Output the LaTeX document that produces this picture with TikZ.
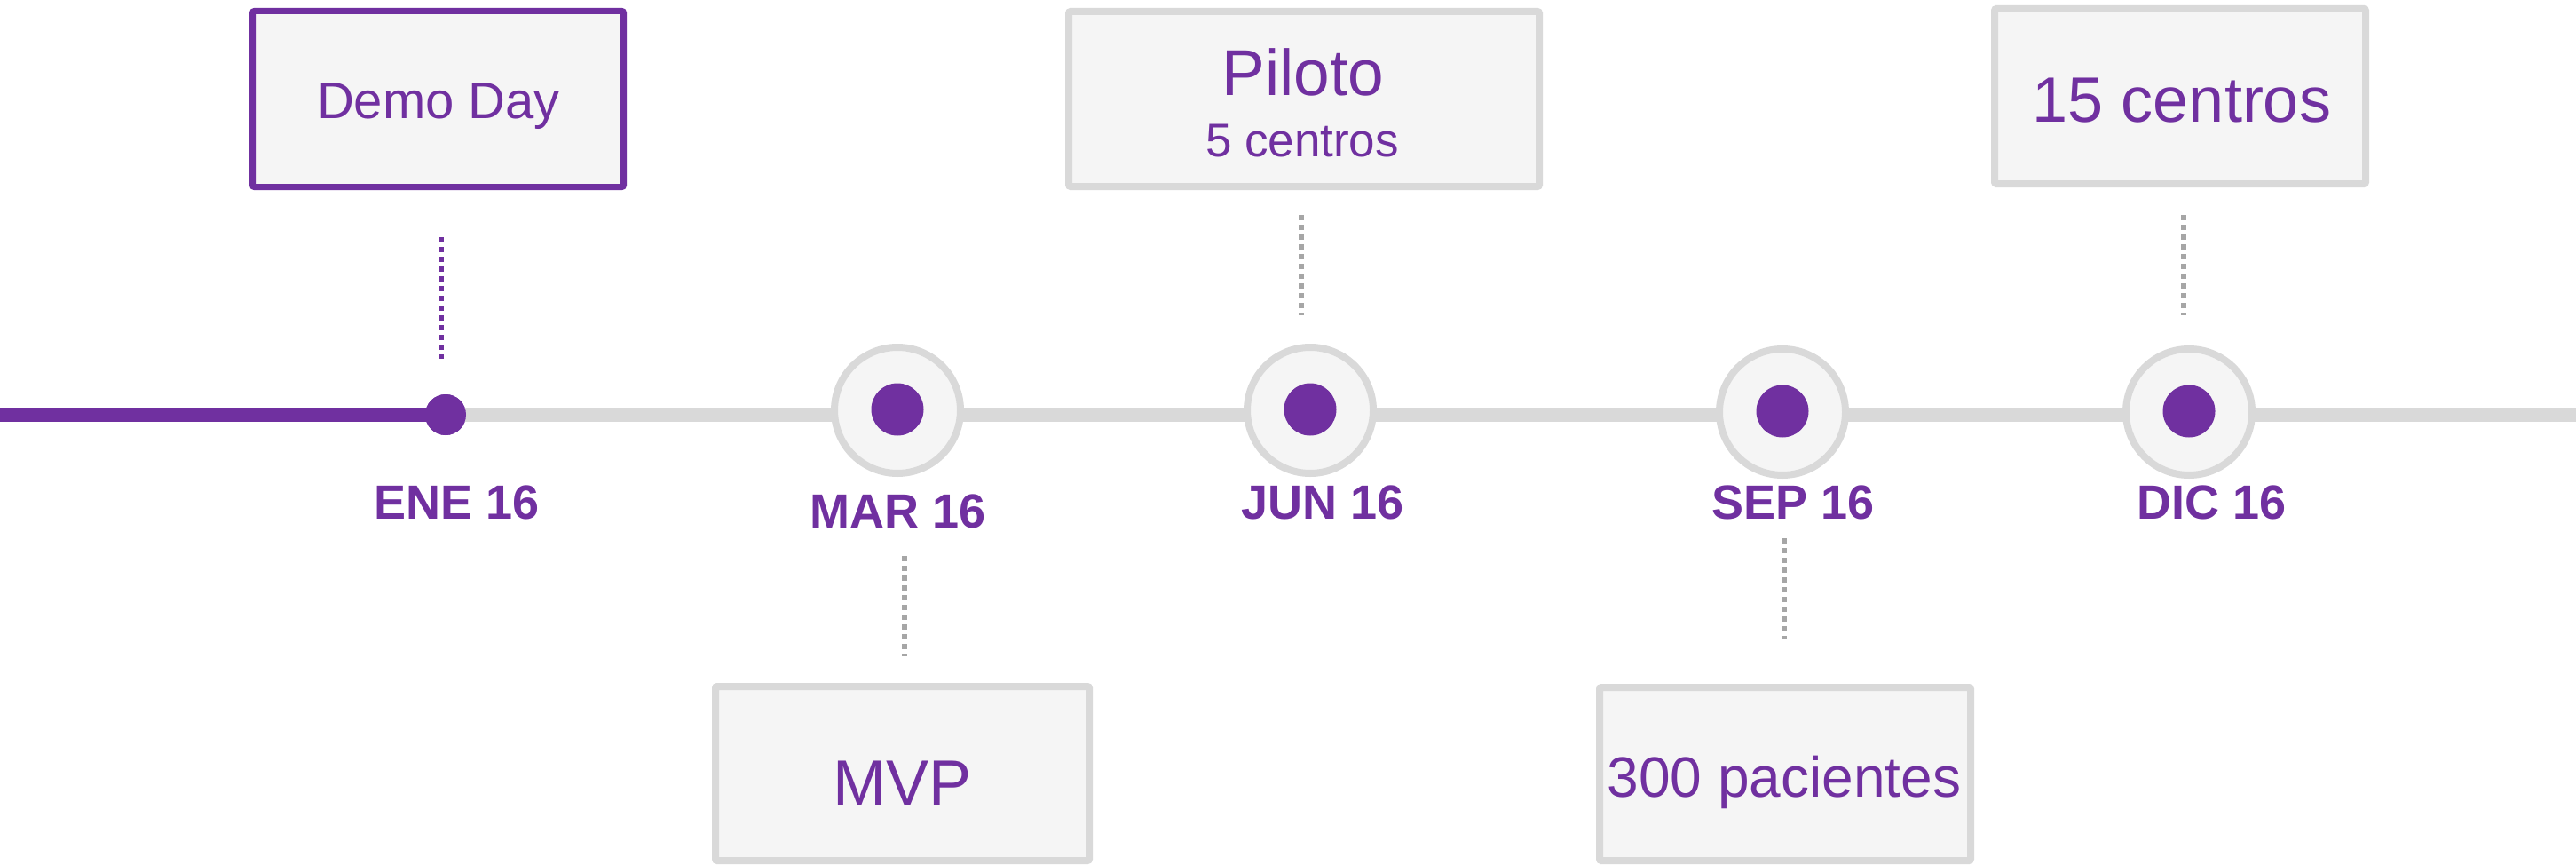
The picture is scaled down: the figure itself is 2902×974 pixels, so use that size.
\documentclass[tikz,border=0pt]{standalone}
\usepackage{fontspec}
\setmainfont{Liberation Sans}
\definecolor{vio}{HTML}{7030A0}
\definecolor{lgray}{HTML}{D9D9D9}
\definecolor{boxfill}{HTML}{F5F5F5}
\definecolor{dgray}{HTML}{A6A6A6}
\tikzset{
  gbox/.style={draw=lgray, line width=8pt, fill=boxfill, rectangle, inner sep=0pt, rounded corners=2pt},
  vbox/.style={draw=vio, line width=7pt, fill=boxfill, rectangle, inner sep=0pt, rounded corners=2pt},
  ring/.style={circle, draw=lgray, line width=8pt, fill=boxfill, minimum size=142pt, inner sep=0pt},
  core/.style={circle, fill=vio, minimum size=59pt, inner sep=0pt},
  txt/.style={text=vio, anchor=base, inner sep=0pt},
  datelbl/.style={text=vio, anchor=base, inner sep=0pt, font=\fontsize{54}{60}\selectfont\bfseries},
  vdots/.style={draw=vio, line width=5.5pt, dash pattern=on 5.5pt off 5.5pt},
  gdots/.style={draw=dgray, line width=5.5pt, dash pattern=on 5.5pt off 5.5pt},
}
\begin{document}
\begin{tikzpicture}[x=1pt, y=-1pt]
\useasboundingbox (0,0) rectangle (2902,974);
% timeline
\coordinate (start) at (0,467);
\coordinate (finish) at (2902,467);
\node[circle, fill=vio, minimum size=46pt, inner sep=0pt] (ene) at (502,467) {};
\draw[lgray, line width=16pt] (ene.center) -- (finish);
\draw[vio, line width=16pt] (start) -- (ene.center);
\node[circle, fill=vio, minimum size=46pt, inner sep=0pt] at (ene.center) {};
% rings
\node[ring] (mar) at (1011,462) {};
\node[core] (marc) at (1011,461) {};
\node[ring] (jun) at (1476,462) {};
\node[core] (junc) at (1476,461) {};
\node[ring] (sep) at (2008,464) {};
\node[core] (sepc) at (2008,463) {};
\node[ring] (dic) at (2466,464) {};
\node[core] (dicc) at (2466,463) {};
% date labels
\node[datelbl] (eneL) at (515,584) {ENE 16};
\node[datelbl] (marL) at (1012,594) {MAR 16};
\node[datelbl] (junL) at (1490,584) {JUN 16};
\node[datelbl] (sepL) at (2020,584) {SEP 16};
\node[datelbl] (dicL) at (2492,584) {DIC 16};
% boxes
\node[vbox, minimum width=418pt, minimum height=198pt] (demo) at (493.5,111.5) {};
\node[gbox, minimum width=530pt, minimum height=197pt] (piloto) at (1469,111.5) {};
\node[gbox, minimum width=418pt, minimum height=197pt] (quince) at (2456,108.5) {};
\node[gbox, minimum width=421pt, minimum height=196pt] (mvp) at (1016.5,871) {};
\node[gbox, minimum width=418pt, minimum height=195pt] (pac) at (2011,871.5) {};
% box texts
\node[txt, font=\fontsize{58}{66}\selectfont] (demoT) at (494,133.5) {Demo Day};
\node[txt, font=\fontsize{73}{80}\selectfont] (pilotoT) at (1468,107) {Piloto};
\node[txt, font=\fontsize{53}{60}\selectfont] (pilotoS) at (1467,176) {5 centros};
\node[txt, font=\fontsize{72}{80}\selectfont] (quinceT) at (2458,137) {15 centros};
\node[txt, font=\fontsize{72}{80}\selectfont] (mvpT) at (1017,906) {MVP};
\node[txt, font=\fontsize{64}{72}\selectfont] (pacT) at (2010,897) {300 pacientes};
% dotted connectors
\coordinate (d1a) at (497,267); \coordinate (d1b) at (497,404);
\coordinate (d2a) at (1019,626); \coordinate (d2b) at (1019,739);
\coordinate (d3a) at (1466,242); \coordinate (d3b) at (1466,355);
\coordinate (d4a) at (2010.5,606); \coordinate (d4b) at (2010.5,719);
\coordinate (d5a) at (2460,242); \coordinate (d5b) at (2460,355);
\draw[vdots] (d1a) -- (d1b);
\draw[gdots] (d2a) -- (d2b);
\draw[gdots] (d3a) -- (d3b);
\draw[gdots] (d4a) -- (d4b);
\draw[gdots] (d5a) -- (d5b);
\end{tikzpicture}
\end{document}
